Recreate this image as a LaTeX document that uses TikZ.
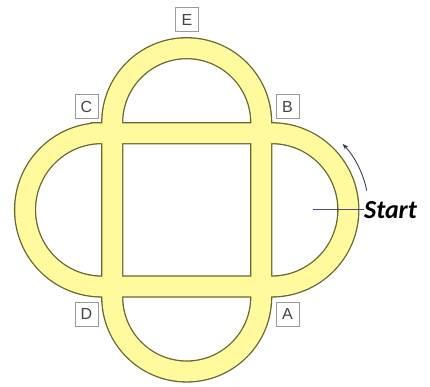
\documentclass[tikz,border=0pt]{standalone}
\usepackage{fontspec}
\setmainfont{Liberation Sans}
\newfontfamily\startfont{Carlito}
\usetikzlibrary{arrows.meta}
\definecolor{trackfill}{HTML}{FFFA9E}
\definecolor{trackedge}{HTML}{66662E}
\definecolor{boxedge}{HTML}{9A9A9A}
\definecolor{boxtext}{HTML}{444444}
\definecolor{startline}{HTML}{4A4A8A}
\definecolor{arrowcol}{HTML}{3A3F55}
\begin{document}
\begin{tikzpicture}[x=1pt,y=1pt,
  trackout/.style={draw=trackedge,line width=22.2pt},
  trackin/.style={draw=trackfill,line width=19.6pt},
  lbl/.style={draw=boxedge,line width=1pt,fill=white,minimum width=23pt,minimum height=24pt,inner sep=0pt,text=boxtext,font=\fontsize{16}{16}\selectfont}]
\useasboundingbox (0,0) rectangle (430,386);
\def\vstad{(112.2,89) -- (112.2,263.3) arc[start angle=180,end angle=0,radius=74.5pt] -- (261.2,89) arc[start angle=0,end angle=-180,radius=74.5pt] -- cycle}
\def\hstad{(101.7,252.8) -- (271.7,252.8) arc[start angle=90,end angle=-90,radius=76.65pt] -- (101.7,99.5) arc[start angle=270,end angle=90,radius=76.65pt] -- cycle}
\draw[trackout] \vstad;
\draw[trackout] \hstad;
\draw[trackin] \vstad;
\draw[trackin] \hstad;
\node[lbl] (E) at (187,366.5) {E};
\node[lbl] (C) at (86.5,279) {C};
\node[lbl] (B) at (287.5,279) {B};
\node[lbl] (D) at (86.5,72) {D};
\node[lbl] (A) at (287.5,72) {A};
\node[anchor=west,inner sep=0pt,font=\startfont\bfseries\itshape\fontsize{26}{26}\selectfont] (start) at (364,175.5) {Start};
\coordinate (startpt) at (313,176.7);
\draw[startline,line width=0.8pt] (startpt) -- (start.west |- startpt);
\coordinate (rc) at (271.7,176);
\draw[arrowcol,line width=0.9pt,-{Stealth[length=6pt,width=4.5pt]}] ([shift={(11.5:97pt)}]rc) arc[start angle=11.5,end angle=43,radius=97pt];
\end{tikzpicture}
\end{document}
